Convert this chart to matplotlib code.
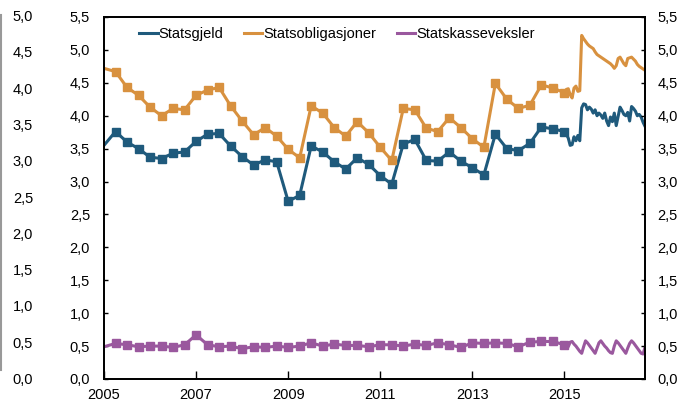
import numpy as np
import matplotlib
matplotlib.use("Agg")
import matplotlib.pyplot as plt
from matplotlib.lines import Line2D

plt.rcParams['font.family'] = ['Liberation Sans', 'DejaVu Sans']

# quarterly observations 2005Q1 .. 2015Q1 (decimal years)
t_quarter = 2005 + 0.25 * np.arange(41)
# half-monthly observations after 2015
t_tail = 2015 + np.arange(1, 43) / 24.0

gjeld_q = [3.55, 3.76, 3.60, 3.50, 3.37, 3.35, 3.43, 3.45, 3.61, 3.72,
           3.73, 3.54, 3.38, 3.25, 3.33, 3.30, 2.70, 2.79, 3.54, 3.45,
           3.30, 3.19, 3.36, 3.26, 3.09, 2.96, 3.57, 3.64, 3.32, 3.31,
           3.45, 3.31, 3.21, 3.10, 3.72, 3.50, 3.47, 3.58, 3.83, 3.80,
           3.76]
oblig_q = [4.72, 4.67, 4.43, 4.31, 4.13, 4.00, 4.11, 4.09, 4.31, 4.39,
           4.43, 4.15, 3.92, 3.71, 3.82, 3.69, 3.49, 3.36, 4.15, 4.04,
           3.82, 3.69, 3.91, 3.74, 3.52, 3.32, 4.11, 4.09, 3.81, 3.76,
           3.97, 3.82, 3.65, 3.52, 4.49, 4.25, 4.11, 4.16, 4.47, 4.42,
           4.35]
veksler_q = [0.49, 0.54, 0.52, 0.49, 0.50, 0.50, 0.48, 0.52, 0.67, 0.52,
             0.49, 0.50, 0.46, 0.49, 0.48, 0.50, 0.48, 0.50, 0.55, 0.50,
             0.53, 0.51, 0.51, 0.49, 0.52, 0.52, 0.50, 0.53, 0.51, 0.55,
             0.52, 0.48, 0.55, 0.54, 0.55, 0.54, 0.49, 0.56, 0.57, 0.57,
             0.52]

gjeld_tail = [3.72, 3.66, 3.55, 3.56, 3.68, 3.62, 3.70, 3.62, 4.12, 4.18,
              4.17, 4.09, 4.13, 4.10, 4.04, 4.09, 4.00, 4.04, 4.01, 3.96,
              4.04, 3.92, 3.85, 3.98, 3.91, 4.04, 3.85, 3.99, 4.13, 4.08,
              4.02, 4.00, 4.05, 3.92, 4.14, 4.11, 4.07, 4.00, 4.02, 3.98,
              3.90, 3.84]
oblig_tail = [4.40, 4.41, 4.32, 4.27, 4.42, 4.45, 4.37, 4.38, 5.22, 5.17,
              5.13, 5.09, 5.06, 5.04, 5.02, 4.97, 4.93, 4.91, 4.89, 4.87,
              4.85, 4.83, 4.81, 4.79, 4.76, 4.72, 4.76, 4.87, 4.89, 4.84,
              4.79, 4.76, 4.87, 4.88, 4.89, 4.86, 4.83, 4.78, 4.75, 4.73,
              4.71, 4.69]
veksler_tail = [0.50, 0.49, 0.56, 0.57, 0.53, 0.50, 0.46, 0.42, 0.39, 0.49,
                0.58, 0.55, 0.51, 0.47, 0.43, 0.39, 0.47, 0.55, 0.58, 0.54,
                0.50, 0.47, 0.43, 0.40, 0.39, 0.50, 0.58, 0.55, 0.51, 0.47,
                0.43, 0.39, 0.47, 0.54, 0.58, 0.55, 0.51, 0.47, 0.43, 0.39,
                0.38, 0.48]

names = ['Statsgjeld', 'Statsobligasjoner', 'Statskasseveksler']
colors = ['#1f5a7c', '#d8913f', '#9a589e']
series = [(gjeld_q, gjeld_tail), (oblig_q, oblig_tail), (veksler_q, veksler_tail)]

yticks = np.arange(0, 5.51, 0.5)
xticks = [2005, 2007, 2009, 2011, 2013, 2015]
side_ticks = np.arange(0, 5.01, 0.5)   # labels of the neighbouring chart, left edge


def comma(v):
    return ('%.1f' % v).replace('.', ',')


fig = plt.figure(figsize=(6.8, 4.03), dpi=100)
ax = fig.add_axes([104/680, 1-379/403, 541/680, 362/403])

t_all = np.concatenate([t_quarter, t_tail])
for (q, tail), c in zip(series, colors):
    y = np.concatenate([q, tail])
    ax.plot(t_all, y, color=c, lw=2.2, marker='s', ms=5.8,
            markevery=list(range(1, len(q))), solid_joinstyle='round')

ax.set_xlim(2005, 2016.75)
ax.set_ylim(0, 5.5)
ax.set_xticks(xticks)
ax.set_xticklabels([str(x) for x in xticks])
ax.set_yticks(yticks)
ax.set_yticklabels([comma(v) for v in yticks])
ax.tick_params(axis='y', direction='in', length=3, width=1, labelsize=10.5, pad=10)
ax.tick_params(axis='x', direction='in', length=6, width=1, labelsize=10.5, pad=6.5)

ax2 = ax.twinx()
ax2.set_ylim(0, 5.5)
ax2.set_yticks(yticks)
ax2.set_yticklabels([comma(v) for v in yticks])
ax2.tick_params(axis='y', direction='in', length=3, width=1, labelsize=10.5, pad=9)

for a in (ax, ax2):
    for s in a.spines.values():
        s.set_linewidth(1.3)
        s.set_color('black')

handles = [Line2D([], [], color=c, lw=2.2) for c in colors]
ax.legend(handles, names, ncol=3, loc='upper left', bbox_to_anchor=(0.045, 1.0),
          frameon=False, fontsize=10.5, handlelength=1.3, handletextpad=0.05,
          columnspacing=1.4, borderaxespad=0.3)

# leftovers of the neighbouring chart at the left edge
for v in side_ticks:
    fig.text(33/680, 1 - (380 - v*72.6)/403, comma(v), ha='right', va='center',
             fontsize=10.5)
fig.add_artist(Line2D([1/680, 1/680], [1-15/403, 1-370/403], color='#999999', lw=1.5))

fig.savefig('out.png', dpi=100)
